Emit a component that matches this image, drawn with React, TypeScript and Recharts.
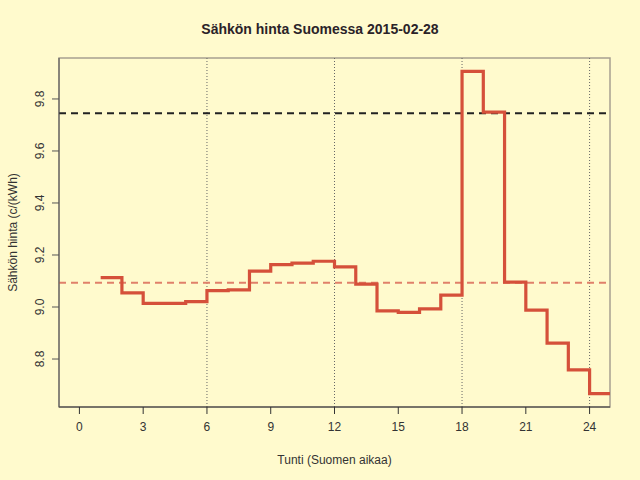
import { LineChart, Line, XAxis, YAxis, ReferenceLine, ReferenceArea } from "recharts";

// hours of the day (step after), last point closes the final hour
const hours = [1, 2, 3, 4, 5, 6, 7, 8, 9, 10, 11, 12, 13, 14, 15, 16, 17, 18, 19, 20, 21, 22, 23, 24, 25];
const prices = [
  9.113, 9.054, 9.014, 9.014, 9.021, 9.063, 9.066, 9.138, 9.163, 9.169, 9.176, 9.154,
  9.088, 8.985, 8.979, 8.993, 9.046, 9.906, 9.749, 9.096, 8.988, 8.861, 8.758, 8.667, 8.667,
];
const xTicks = [0, 3, 6, 9, 12, 15, 18, 21, 24];
const yTicks = [8.8, 9.0, 9.2, 9.4, 9.6, 9.8];
const quarterLines = [6, 12, 18, 24];
const meanPrice = 9.093;
const refPrice = 9.745;

const xDomain: [number, number] = [-0.96, 24.96];
const yDomain: [number, number] = [8.6155, 9.9575];

const data = hours.map((h, i) => ({ hour: h, price: prices[i] }));

const font = "'Liberation Sans', Arial, sans-serif";

function YTick(props: any) {
  const { x, y, payload } = props;
  return (
    <text
      x={x}
      y={y}
      transform={`rotate(-90, ${x}, ${y})`}
      textAnchor="middle"
      fontSize={12}
      fontFamily={font}
      fill="#333"
    >
      {payload.value.toFixed(1)}
    </text>
  );
}

export default function App() {
  return (
    <div
      style={{
        position: "absolute",
        left: 0,
        top: 0,
        width: 640,
        height: 480,
        background: "#FFFACD",
        fontFamily: font,
      }}
    >
      <div
        style={{
          position: "absolute",
          top: 21,
          width: 640,
          textAlign: "center",
          fontSize: 14,
          fontWeight: "bold",
          color: "#2a2228",
        }}
      >
        Sähkön hinta Suomessa 2015-02-28
      </div>
      <LineChart
        width={640}
        height={480}
        data={data}
        margin={{ top: 58, right: 30, left: 0, bottom: 0 }}
        style={{ position: "absolute", left: 0, top: 0 }}
      >
        <ReferenceArea
          x1={xDomain[0]}
          x2={xDomain[1]}
          y1={yDomain[0]}
          y2={yDomain[1]}
          fill="none"
          stroke="#a8a090"
          strokeWidth={1.5}
        />
        <XAxis
          type="number"
          dataKey="hour"
          domain={xDomain}
          ticks={xTicks}
          allowDataOverflow
          height={73}
          tickSize={7}
          tickMargin={8}
          stroke="#333"
          tick={{ fontSize: 12, fontFamily: font, fill: "#333" }}
          label={{
            value: "Tunti (Suomen aikaa)",
            position: "insideBottom",
            offset: 16,
            fontSize: 12,
            fontFamily: font,
            fill: "#333",
          }}
        />
        <YAxis
          type="number"
          domain={yDomain}
          ticks={yTicks}
          allowDataOverflow
          width={59}
          tickSize={7}
          tickMargin={8}
          stroke="#555"
          tick={<YTick />}
          label={{
            value: "Sähkön hinta (c/(kWh)",
            angle: -90,
            position: "insideLeft",
            offset: 13,
            style: { textAnchor: "middle" },
            fontSize: 12,
            fontFamily: font,
            fill: "#333",
          }}
        />
        {quarterLines.map((h) => (
          <ReferenceLine key={h} x={h} stroke="#666" strokeDasharray="1 2" strokeWidth={1} />
        ))}
        <ReferenceLine y={refPrice} stroke="#222" strokeDasharray="7 5" strokeWidth={1.8} />
        <ReferenceLine y={meanPrice} stroke="#E0806A" strokeDasharray="7 5" strokeWidth={2} />
        <Line
          type="stepAfter"
          dataKey="price"
          stroke="#D5503A"
          strokeWidth={3.2}
          dot={false}
          isAnimationActive={false}
          strokeLinejoin="miter"
          strokeLinecap="butt"
        />
      </LineChart>
    </div>
  );
}
